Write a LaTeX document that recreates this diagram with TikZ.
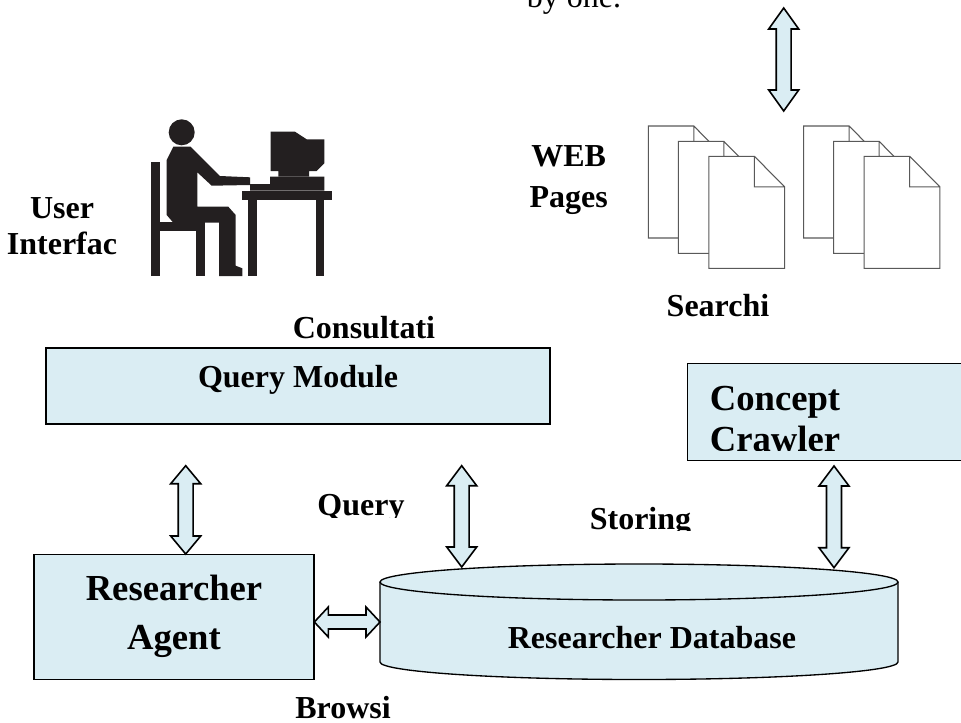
\documentclass[tikz,border=0pt]{standalone}
\usepackage{fontspec}
\setmainfont{Liberation Serif}
\usetikzlibrary{calc}
\definecolor{boxblue}{HTML}{DAEDF3}
\definecolor{iconblack}{HTML}{231F20}
\tikzset{
	label24/.style={font=\fontsize{24}{27}\selectfont\bfseries, anchor=base, inner sep=0pt},
	label27/.style={font=\fontsize{27.5}{36.75}\selectfont\bfseries, anchor=base, inner sep=0pt, align=center},
	bluebox/.style={draw, fill=boxblue, line width=1.1pt, inner sep=0pt},
	page/.style={draw=black!65, fill=white, line width=0.8pt},
	dblarrow/.style 2 args={draw, fill=boxblue, line width=1.2pt, line join=miter, to path={
		-- ($(\tikztostart)!#1!(\tikztotarget)!11.25pt!90:(\tikztotarget)$)
		-- ($(\tikztostart)!#1!(\tikztotarget)!#2!90:(\tikztotarget)$)
		-- ($(\tikztotarget)!#1!(\tikztostart)!-#2!90:(\tikztostart)$)
		-- ($(\tikztotarget)!#1!(\tikztostart)!-11.25pt!90:(\tikztostart)$)
		-- (\tikztotarget)
		-- ($(\tikztotarget)!#1!(\tikztostart)!11.25pt!90:(\tikztostart)$)
		-- ($(\tikztotarget)!#1!(\tikztostart)!#2!90:(\tikztostart)$)
		-- ($(\tikztostart)!#1!(\tikztotarget)!-#2!90:(\tikztotarget)$)
		-- ($(\tikztostart)!#1!(\tikztotarget)!-11.25pt!90:(\tikztotarget)$)
		-- cycle}}
}
\begin{document}
\begin{tikzpicture}[x=0.75pt, y=-0.75pt]
	\useasboundingbox (0,0) rectangle (961,722);
	%%%	Box
	\node[bluebox, minimum width=378pt, minimum height=57pt] (query) at (298,386) {};
	\node[label24] (querytext) at (298,387) {Query Module};
	\node[bluebox, minimum width=210pt, minimum height=93.75pt] (agent) at (174,616.8) {};
	\node[label27] (agenttext) at (174,649) {Researcher\\Agent};
	\node[bluebox, minimum width=230pt, minimum height=72.75pt, anchor=north west] (crawler) at (687,363) {};
	%%%	Database
	\fill[boxblue] (380,582) -- (380,662) arc (180:0:259 and 17.5) -- (898,582) arc (0:-180:259 and 18);
	\draw[line width=1pt] (380,582) -- (380,662) arc (180:0:259 and 17.5) -- (898,582);
	\draw[line width=1pt] (639,582) ellipse (259 and 18);
	\node[label24] (dbtext) at (652,648) {Researcher Database};
	%%%	Testi tagliati
	\begin{scope}
		\clip (690,370) rectangle (961,450);
		\node[label27, font=\fontsize{27.5}{30.75}\selectfont\bfseries] (crawlertext) at (775,451) {Concept\\Crawler};
	\end{scope}
	\begin{scope}
		\clip (300,480) rectangle (420,517);
		\node[label24] (querylabel) at (361,515) {Query};
	\end{scope}
	\begin{scope}
		\clip (580,490) rectangle (700,530);
		\node[label24] (storing) at (640.5,529) {Storing};
	\end{scope}
	%%%	Etichette
	\node[font=\fontsize{24}{27}\selectfont, anchor=base, inner sep=0pt] (byone) at (574,7.5) {by one.};
	\node[label24, align=center] (user) at (62,254) {User\\Interfac};
	\node[label24, align=center, font=\fontsize{24}{30.75}\selectfont\bfseries] (web) at (568.7,207) {WEB\\Pages};
	\node[label24] (consult) at (364,338) {Consultati};
	\node[label24] (search) at (718,316) {Searchi};
	\node[label24] (browse) at (343,718) {Browsi};
	%%%	Frecce
	\coordinate (webtop) at (783.7,8);
	\coordinate (webbot) at (783.7,111);
	\coordinate (qa) at (185.7,465.7);
	\coordinate (qb) at (185.7,554);
	\coordinate (da) at (461.7,465.7);
	\coordinate (db) at (461.7,567);
	\coordinate (ca) at (834,466);
	\coordinate (cb) at (834,567.7);
	\coordinate (ra) at (314.3,622);
	\coordinate (rb) at (380,622);
	\draw[dblarrow={15.75pt}{5.6pt}] (webtop) to (webbot);
	\draw[dblarrow={13.5pt}{5.6pt}] (qa) to (qb);
	\draw[dblarrow={15pt}{5.6pt}] (da) to (db);
	\draw[dblarrow={15pt}{5.6pt}] (ca) to (cb);
	\draw[dblarrow={10.5pt}{5.25pt}] (ra) to (rb);
	%%%	Pagine
	\foreach \sx in {0,155.3}
	\foreach \dx/\dy in {0/0,30/15.3,60.6/30.3}
	\draw[page, shift={(648.3+\sx+\dx,126+\dy)}] (0,0) -- (45.5,0) -- (75.7,30.5) -- (75.7,112) -- (0,112) -- cycle (45.5,0) -- (45.5,30.5) -- (75.7,30.5);
	%%%	Utente
	\begin{scope}[iconblack]
		\fill (181.7,132.3) circle (13);
		\fill (150.7,161.7) rectangle (160,276);
		\fill (160,221.7) rectangle (205,231);
		\fill (196,231) rectangle (205,276);
		\fill (173.3,146.7) -- (190.7,146.7) -- (220,176) -- (250,177.3) -- (250,185) -- (211.7,185.7) -- (197.3,172.3) -- (197.3,206.7) -- (228.3,206.7) -- (235.7,215) -- (235.7,265.7) -- (242.3,268.3) -- (242.3,276) -- (219,276) -- (219,222.7) -- (173.3,222.7) -- (166.7,215) -- (166.7,160) -- cycle;
		\fill (241.7,190.7) rectangle (331.7,200);
		\fill (248.3,200) rectangle (257.3,276);
		\fill (315.7,200) rectangle (324.3,276);
		\fill (250,190.7) -- (250,184) -- (270,184) -- (270,176.7) -- (324.3,176.7) -- (324.3,190.7) -- cycle;
		\fill (270.7,131.7) -- (295,131.7) -- (306.7,139.3) -- (324.3,139.3) -- (324.3,163.3) -- (316.7,171) -- (309,171) -- (309,176.7) -- (278.3,176.7) -- (278.3,171) -- (270.7,171) -- cycle;
	\end{scope}
\end{tikzpicture}
\end{document}
